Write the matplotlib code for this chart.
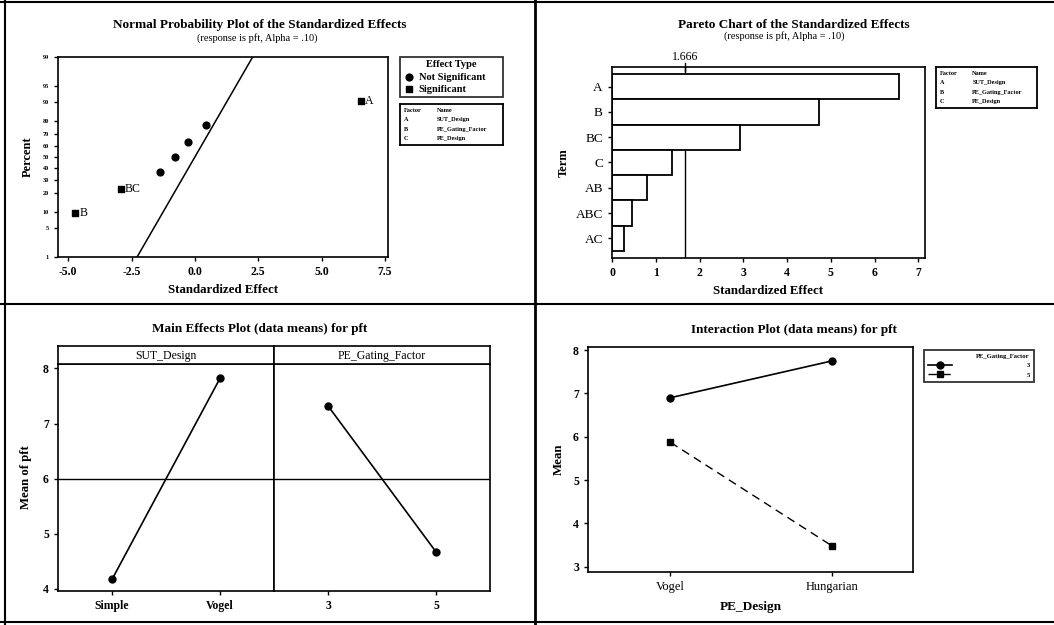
import numpy as np
import matplotlib
matplotlib.use("Agg")
import matplotlib.pyplot as plt
from matplotlib.lines import Line2D
from statistics import NormalDist

plt.rcParams['font.family'] = ['Liberation Serif', 'DejaVu Serif']

effect_terms = ["A", "B", "BC", "C", "AB", "ABC", "AC"]
effect_values = [6.55, -4.72, -2.92, -1.38, -0.79, 0.45, -0.27]
alpha_limit = 1.666
lenth_pse = 0.98
factor_codes = ["A", "B", "C"]
factor_names = ["SUT_Design", "PE_Gating_Factor", "PE_Design"]
prob_ticks = [1, 5, 10, 20, 30, 40, 50, 60, 70, 80, 90, 95, 99]

# main effects
sut_levels = ["Simple", "Vogel"]
sut_means = [4.17, 7.82]
gating_levels = ["3", "5"]
gating_means = [7.32, 4.67]
grand_mean = 6.0

# interaction PE_Design x PE_Gating_Factor
design_levels = ["Vogel", "Hungarian"]
gating3_means = [6.90, 7.75]
gating5_means = [5.87, 3.48]

W, H = 1054, 625
fig = plt.figure(figsize=(W / 100, H / 100), dpi=100)


def box(x0, y0, x1, y1):
	return [x0 / W, 1 - y1 / H, (x1 - x0) / W, (y1 - y0) / H]


def hline(x0, x1, y, lw=1.5):
	fig.add_artist(Line2D([x0 / W, x1 / W], [1 - y / H, 1 - y / H], transform=fig.transFigure, color='black', lw=lw))


def vline(x, y0, y1, lw=1.5):
	fig.add_artist(Line2D([x / W, x / W], [1 - y0 / H, 1 - y1 / H], transform=fig.transFigure, color='black', lw=lw))


def style(ax, labelsize=8):
	for s in ax.spines.values():
		s.set_linewidth(1.2)
	ax.tick_params(direction='out', length=3, width=1, labelsize=labelsize)
	for t in ax.get_xticklabels() + ax.get_yticklabels():
		t.set_fontweight('bold')


def factor_table(x0, y0, x1, y1):
	tax = fig.add_axes(box(x0, y0, x1, y1))
	tax.set_xticks([])
	tax.set_yticks([])
	for s in tax.spines.values():
		s.set_linewidth(1.3)
	rows = [("Factor", "Name")] + list(zip(factor_codes, factor_names))
	for i, (c, nme) in enumerate(rows):
		yy = 0.84 - i * 0.225
		tax.text(0.04, yy, c, fontsize=4.5, fontweight='bold', va='center', transform=tax.transAxes)
		tax.text(0.36, yy, nme, fontsize=4.5, fontweight='bold', va='center', transform=tax.transAxes)


# frame lines of the page
hline(0, W, 2)
hline(0, W, 304)
hline(0, W, 622)
vline(5, 0, H)
vline(535, 0, H, lw=2)

vals = np.array(effect_values)
n = len(vals)
sig = np.abs(vals) > alpha_limit

# ---------------- Normal probability plot ----------------
nd = NormalDist()
ax1 = fig.add_axes(box(58, 57, 388, 257))
order = np.argsort(vals)
pct = np.empty(n)
pct[order] = (np.arange(1, n + 1) - 0.3) / (n + 0.4)
zs = np.array([nd.inv_cdf(p) for p in pct])
ax1.scatter(vals[~sig], zs[~sig], marker='o', s=24, color='black', label='Not Significant', zorder=3)
ax1.scatter(vals[sig], zs[sig], marker='s', s=14, color='black', label='Significant', zorder=3)
for term, v, zz, s in zip(effect_terms, vals, zs, sig):
	if s:
		ax1.annotate(term, (v, zz), xytext=(3, 0), textcoords='offset points', va='center', fontsize=8.5)
zlim = (nd.inv_cdf(0.01), nd.inv_cdf(0.99))
ax1.plot([lenth_pse * zlim[0], lenth_pse * zlim[1]], zlim, color='black', lw=1.1)
ax1.set_ylim(zlim)
ax1.set_xlim(-5.4, 7.62)
ax1.set_yticks([nd.inv_cdf(p / 100) for p in prob_ticks], [str(p) for p in prob_ticks])
xt = [-5.0, -2.5, 0.0, 2.5, 5.0, 7.5]
ax1.set_xticks(xt, ["%.1f" % t for t in xt])
style(ax1, labelsize=8.5)
ax1.tick_params(axis='y', labelsize=4.5)
ax1.set_xlabel("Standardized Effect", fontsize=9.3, fontweight='bold', labelpad=4)
ax1.set_ylabel("Percent", fontsize=9, fontweight='bold', labelpad=6)
leg = ax1.legend(title="Effect Type", loc='upper left', bbox_to_anchor=(400 / W, 1 - 100 / H, 103 / W, 43 / H),
	bbox_transform=fig.transFigure, mode='expand', fancybox=False, edgecolor='black', fontsize=7.5,
	title_fontsize=7.5, borderpad=0.3, handletextpad=0.3, labelspacing=0.3, handlelength=1.2, borderaxespad=0)
leg.get_frame().set_linewidth(1.3)
for t in leg.get_texts():
	t.set_fontweight('bold')
leg.get_title().set_fontweight('bold')
factor_table(400, 104, 503, 145)
fig.text(260 / W, 1 - 25 / H, "Normal Probability Plot of the Standardized Effects", ha='center', va='center', fontsize=9.5, fontweight='bold')
fig.text(257 / W, 1 - 38 / H, "(response is pft, Alpha = .10)", ha='center', va='center', fontsize=7.5)

# ---------------- Pareto chart ----------------
ax2 = fig.add_axes(box(612, 67, 925, 258))
abs_vals = np.abs(vals)
p_order = np.argsort(-abs_vals)
pareto_terms = [effect_terms[i] for i in p_order]
pareto_vals = abs_vals[p_order]
ypos = np.arange(n)
ax2.axvline(alpha_limit, color='black', lw=1, zorder=1)
ax2.plot([alpha_limit, alpha_limit], [0.98, 1.02], color='black', lw=1, transform=ax2.get_xaxis_transform(), clip_on=False)
ax2.barh(ypos, pareto_vals, height=1.0, color='white', edgecolor='black', lw=1.3, zorder=2)
ax2.set_ylim(n - 0.5 + 0.28, -0.5 - 0.28)
ax2.set_xlim(0, 7.15)
ax2.set_yticks(ypos, pareto_terms)
ax2.set_xticks(range(8))
style(ax2, labelsize=8.5)
for t in ax2.get_yticklabels():
	t.set_fontweight('normal')
	t.set_fontsize(9.5)
ax2.text(alpha_limit, 1.02, "%.3f" % alpha_limit, transform=ax2.get_xaxis_transform(), ha='center', va='bottom', fontsize=8.5)
ax2.set_xlabel("Standardized Effect", fontsize=9.3, fontweight='bold', labelpad=4)
ax2.set_ylabel("Term", fontsize=9, fontweight='bold', labelpad=4)
factor_table(936, 67, 1037, 108)
fig.text(794 / W, 1 - 25 / H, "Pareto Chart of the Standardized Effects", ha='center', va='center', fontsize=9.5, fontweight='bold')
fig.text(784 / W, 1 - 36 / H, "(response is pft, Alpha = .10)", ha='center', va='center', fontsize=7.5)

# ---------------- Main effects plot ----------------
ax3a = fig.add_axes(box(58, 364, 274, 591))
ax3b = fig.add_axes(box(274, 364, 490, 591), sharey=ax3a)
panels = [(ax3a, "SUT_Design", sut_levels, sut_means), (ax3b, "PE_Gating_Factor", gating_levels, gating_means)]
for ax, name, levels, means in panels:
	xs = np.arange(len(levels))
	ax.axhline(grand_mean, color='black', lw=1)
	ax.plot(xs, means, marker='o', color='black', ms=5, lw=1.2)
	ax.set_xlim(-0.5, 1.5)
	ax.set_xticks(xs, levels)
	style(ax, labelsize=8.5)
	sax = fig.add_axes([ax.get_position().x0, 1 - 364 / H, ax.get_position().width, 18 / H])
	sax.set_xticks([])
	sax.set_yticks([])
	for s in sax.spines.values():
		s.set_linewidth(1.2)
	sax.text(0.5, 0.45, name, ha='center', va='center', fontsize=8.5, transform=sax.transAxes)
ax3a.set_ylim(3.96, 8.08)
ax3a.set_yticks([4, 5, 6, 7, 8])
ax3b.tick_params(axis='y', left=False, labelleft=False)
ax3a.set_ylabel("Mean of pft", fontsize=9.2, fontweight='bold', labelpad=8)
fig.text(260 / W, 1 - 329 / H, "Main Effects Plot (data means) for pft", ha='center', va='center', fontsize=9.5, fontweight='bold')

# ---------------- Interaction plot ----------------
ax4 = fig.add_axes(box(588, 347, 913, 572))
xs = np.arange(len(design_levels))
ax4.plot(xs, gating3_means, marker='o', color='black', ms=5, lw=1.2, label=gating_levels[0])
ax4.plot(xs, gating5_means, marker='s', color='black', ms=4.5, lw=1, dashes=(6, 4), label=gating_levels[1])
ax4.set_xlim(-0.51, 1.5)
ax4.set_ylim(2.88, 8.07)
ax4.set_xticks(xs, design_levels)
ax4.set_yticks([3, 4, 5, 6, 7, 8])
style(ax4, labelsize=8.5)
for t in ax4.get_xticklabels():
	t.set_fontweight('normal')
	t.set_fontsize(9)
ax4.set_xlabel("PE_Design", fontsize=9.5, fontweight='bold', labelpad=6)
ax4.set_ylabel("Mean", fontsize=9.3, fontweight='bold', labelpad=6)
leg4 = ax4.legend(title="PE_Gating_Factor", loc='upper left', bbox_to_anchor=(924 / W, 1 - 350 / H),
	bbox_transform=fig.transFigure, fancybox=False, edgecolor='black', fontsize=4.8, title_fontsize=4.8,
	alignment='right', handlelength=3.6, handletextpad=11.2, borderpad=0.6, labelspacing=0.55, borderaxespad=0)
leg4.get_frame().set_linewidth(1.3)
for t in leg4.get_texts():
	t.set_fontweight('bold')
leg4.get_title().set_fontweight('bold')
fig.text(794 / W, 1 - 330 / H, "Interaction Plot (data means) for pft", ha='center', va='center', fontsize=9.5, fontweight='bold')

fig.savefig("out.png", dpi=100)
